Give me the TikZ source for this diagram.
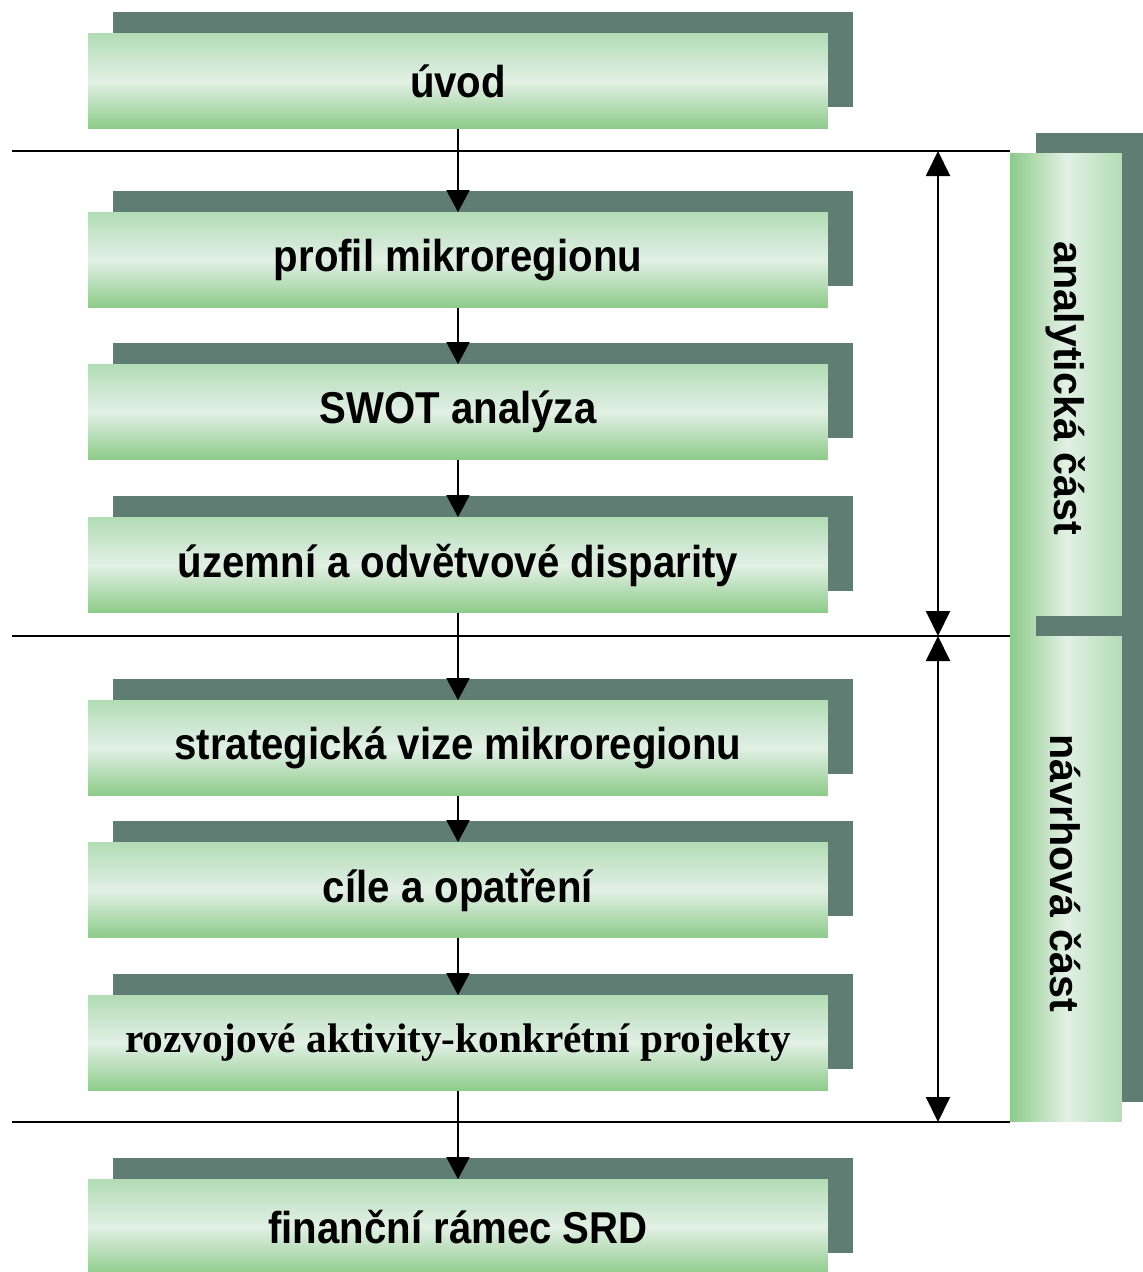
\documentclass[tikz,border=0pt]{standalone}
\usepackage{fontspec}
\setmainfont{Liberation Sans}
\newfontfamily\narrowsans{Liberation Sans}[FakeStretch=0.9]
\newfontfamily\serifbold{Liberation Serif}
\usetikzlibrary{arrows.meta,shadows}

\definecolor{boxpale}{HTML}{E2F0E5}
\definecolor{boxgreen}{HTML}{8DCB8A}
\definecolor{boxtop}{HTML}{B3DCB5}
\definecolor{shadowgray}{HTML}{5F7D72}

\begin{document}
\begin{tikzpicture}
  [
    x=0.02cm, y=-0.02cm,
    font=\fontsize{25.4}{28}\selectfont\narrowsans\bfseries,
    green box/.style={rectangle,inner sep=0,minimum width=14.8cm,minimum height=1.9cm,
      top color=boxtop,bottom color=boxgreen,middle color=boxpale,
      general shadow={shadow xshift=0.5cm,shadow yshift=0.44cm,fill=shadowgray}},
    side box/.style={rectangle,inner sep=0,minimum width=2.24cm,
      left color=boxgreen,right color=boxtop,middle color=boxpale,
      general shadow={shadow xshift=0.52cm,shadow yshift=0.4cm,fill=shadowgray}},
    side text/.style={rotate=-90,font=\fontsize{23.5}{26}\selectfont\bfseries},
    flow arrow/.style={line width=1.1pt,-{Triangle[length=0.44cm,width=0.46cm]}},
    part arrow/.style={line width=1.1pt,
      {Triangle[length=0.5cm,width=0.48cm]}-{Triangle[length=0.5cm,width=0.48cm]}},
    divider/.style={line width=1.6pt},
  ]

  \useasboundingbox (0,0) rectangle (1143,1272);
  \clip (0,0) rectangle (1143,1272);

  % the two parts on the right
  \node(an)[side box,minimum height=9.66cm,
    label={[side text,xshift=-0.12cm]center:analytická část}] at (1066,394.5){};
  \node(na)[side box,minimum height=9.72cm,
    label={[side text,xshift=-0.12cm]center:návrhová část}] at (1066,879){};

  % the steps
  \node(1)[green box] at (458,81){úvod};
  \node(2)[green box] at (458,260){profil mikroregionu};
  \node(3)[green box] at (458,412){SWOT analýza};
  \node(4)[green box] at (458,565){územní a odvětvové disparity};
  \node(5)[green box] at (458,748){strategická vize mikroregionu};
  \node(6)[green box] at (458,890){cíle a opatření};
  \node(7)[green box,font=\fontsize{23.5}{27}\selectfont\serifbold\bfseries] at (458,1043)
    {rozvojové aktivity-konkrétní projekty};
  \node(8)[green box] at (458,1227){finanční rámec SRD};

  % dividers
  \coordinate(s1) at (12,151);
  \coordinate(s2) at (12,636);
  \coordinate(s3) at (12,1122);
  \draw[divider] (s1) -- (s1 -| an.west);
  \draw[divider] (s2) -- (s2 -| an.west);
  \draw[divider] (s3) -- (s3 -| an.west);

  \coordinate(d1) at (938,151);
  \coordinate(d2) at (938,636);
  \coordinate(d3) at (938,1122);
  \draw[part arrow] (d1) -- (d2);
  \draw[part arrow] (d2) -- (d3);

  \draw[flow arrow] (1) -- (2.north);
  \draw[flow arrow] (2) -- (3.north);
  \draw[flow arrow] (3) -- (4.north);
  \draw[flow arrow] (4) -- (5.north);
  \draw[flow arrow] (5) -- (6.north);
  \draw[flow arrow] (6) -- (7.north);
  \draw[flow arrow] (7) -- (8.north);

\end{tikzpicture}
\end{document}
